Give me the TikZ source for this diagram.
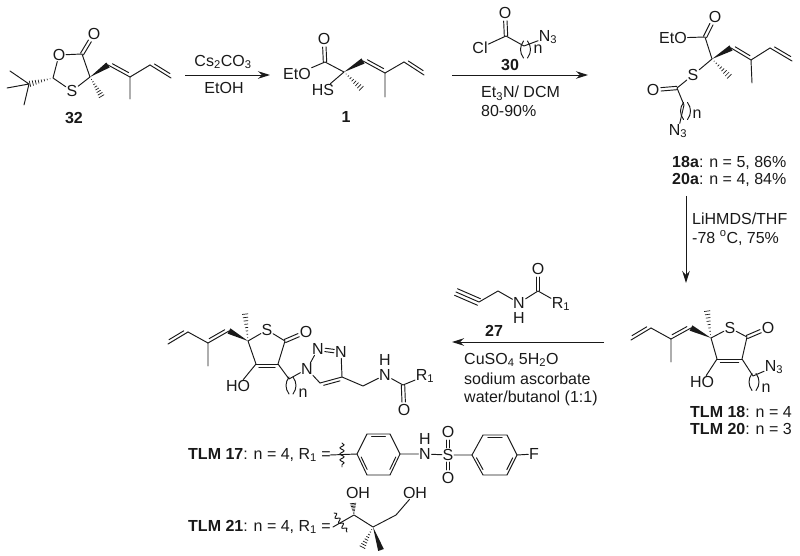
\documentclass[tikz,border=0pt]{standalone}
\usepackage{fontspec}
\setmainfont{Liberation Sans}
\usetikzlibrary{calc,decorations.pathmorphing,arrows.meta}
\tikzset{
  chem/.style={line width=0.95pt,line cap=round,color=black!90},
  atom/.style={inner sep=0.6pt,font=\fontsize{16}{19}\selectfont,text=black!90},
  lab/.style={inner sep=0pt,font=\fontsize{16}{19}\selectfont,text=black!90},
  rxn/.style={line width=0.95pt,color=black!90,-{Stealth[length=12pt,width=7.5pt]}},
  wavy/.style={chem,decorate,decoration={snake,amplitude=2pt,segment length=6pt}},
}
\newcommand{\wedgeb}[2]{\fill[black!90] (#1) -- ($(#2)!3pt!90:(#1)$) -- ($(#2)!3pt!-90:(#1)$) -- cycle;}
\newcommand{\hashb}[2]{\foreach \hh in {0.12,0.24,...,1.0}{\pgfmathsetmacro{\ww}{3.2*\hh}
  \coordinate (hp) at ($(#1)!\hh!(#2)$);
  \draw[line width=0.7pt,color=black!90] ($(hp)!\ww pt!90:(#2)$) -- ($(hp)!\ww pt!-90:(#2)$);}}
\newcommand{\dblb}[3]{\draw[chem] (#1) -- (#2);
  \coordinate (dp) at ($(#1)!.13!(#2)$); \coordinate (dq) at ($(#1)!.87!(#2)$);
  \draw[chem] ($(dp)!3.2pt!#3:(dq)$) -- ($(dq)!3.2pt!-#3:(dp)$);}
\newcommand{\dbc}[4]{\coordinate (dp) at ($(#1)!#3 pt!(#2)$); \coordinate (dq) at ($(#2)!#4 pt!(#1)$);
  \draw[chem] ($(dp)!1.7pt!90:(dq)$) -- ($(dq)!1.7pt!-90:(dp)$);
  \draw[chem] ($(dp)!1.7pt!-90:(dq)$) -- ($(dq)!1.7pt!90:(dp)$);}
\newcommand{\ring}[7]{\draw[chem] (#1)--(#2)--(#3)--(#4)--(#5)--(#6)--cycle;
  \coordinate (#7) at (barycentric cs:#1=1,#2=1,#3=1,#4=1,#5=1,#6=1);
  \draw[chem] ($(#2)!.16!(#3)!.13!(#7)$) -- ($(#3)!.16!(#2)!.13!(#7)$);
  \draw[chem] ($(#4)!.16!(#5)!.13!(#7)$) -- ($(#5)!.16!(#4)!.13!(#7)$);
  \draw[chem] ($(#6)!.16!(#1)!.13!(#7)$) -- ($(#1)!.16!(#6)!.13!(#7)$);}
\newcommand{\brk}[1]{\begin{scope}[shift={(#1)}]
  \draw[chem] (-2,-8.5) .. controls (-6,-3) and (-6,3) .. (-2,8.5);
  \draw[chem] (2,-8.5) .. controls (6,-3) and (6,3) .. (2,8.5);
  \end{scope}}
\begin{document}
\begin{tikzpicture}[x=1pt,y=-1pt]
\useasboundingbox (0,0) rectangle (800,556);
% ---------- 32
\coordinate (a1) at (10,71); \coordinate (a2) at (7,88); \coordinate (a3) at (24,105);
\coordinate (a4) at (29,84); \coordinate (a5) at (53,78);
\node[atom] (aO) at (59,55) {O}; \node[atom] (aS) at (72,91) {S};
\coordinate (a6) at (82,54); \node[atom] (aO2) at (94,34) {O};
\coordinate (a7) at (90,77); \coordinate (a8) at (102,97); \coordinate (a9) at (108,65);
\coordinate (a10) at (130,77); \coordinate (a11) at (130,99); \coordinate (a12) at (150,65); \coordinate (a13) at (171,78);
\draw[chem] (a1)--(a4) (a2)--(a4) (a3)--(a4);
\hashb{a5}{a4}
\draw[chem] (a5)--(aO) (a5)--(aS) (aO)--(a6) (a6)--(a7) (aS)--(a7);
\dbc{a6}{aO2}{0}{8}
\hashb{a7}{a8}
\wedgeb{a7}{a9}
\dblb{a9}{a10}{90}
\draw[chem] (a10)--(a11) (a10)--(a12);
\dblb{a12}{a13}{90}
\node[lab] (l32) at (74,118) {\textbf{32}};
% arrow 1
\coordinate (r1s) at (185,75); \coordinate (r1e) at (270,75);
\draw[rxn] (r1s)--(r1e);
\node[lab] (t1) at (223,62) {Cs\textsubscript{2}CO\textsubscript{3}};
\node[lab] (t2) at (224,88) {EtOH};
% ---------- 1
\node[atom] (bEt) at (297,74) {EtO}; \node[atom] (bO) at (324,39) {O}; \coordinate (b1) at (325,62);
\coordinate (b2) at (344,72); \node[atom] (bHS) at (323,90) {HS};
\coordinate (b3) at (363,61); \coordinate (b4) at (385,73); \coordinate (b5) at (404,62); \coordinate (b6) at (424,75);
\coordinate (b7) at (385,97); \coordinate (b8) at (362,89);
\draw[chem] (bEt)--(b1) (b1)--(b2) (b2)--(bHS) (b4)--(b7) (b4)--(b5);
\dbc{b1}{bO}{0}{8}
\wedgeb{b2}{b3}
\hashb{b2}{b8}
\dblb{b3}{b4}{90}
\dblb{b5}{b6}{90}
\node[lab] (l1) at (346,117) {\textbf{1}};
% arrow 2
\coordinate (r2s) at (452,75); \coordinate (r2e) at (588,75);
\draw[rxn] (r2s)--(r2e);
\node[atom] (cO) at (505,13) {O}; \coordinate (c1) at (506,36); \node[atom] (cCl) at (480,48) {Cl};
\coordinate (c2) at (524,46); \node[atom] (cN) at (548,37) {N\textsubscript{3}};
\draw[chem] (cCl)--(c1) (c1)--(c2) (c2)--(cN);
\dbc{c1}{cO}{0}{8}
\brk{525.5,49.5}
\node[lab] (cn) at (538,49) {n};
\node[lab] (l30) at (510,65) {\textbf{30}};
\node[lab,anchor=west] (t3) at (481,93) {Et\textsubscript{3}N/ DCM};
\node[lab,anchor=west] (t4) at (481,111) {80-90\%};
% ---------- 18a
\node[atom] (dO) at (715,17) {O}; \coordinate (d1) at (705,37); \node[atom] (dEt) at (673,38) {EtO};
\coordinate (d2) at (712,59); \coordinate (d3) at (731,48); \coordinate (d4) at (751,60);
\coordinate (d5) at (770,48); \coordinate (d6) at (792,61); \coordinate (d7) at (752,83); \coordinate (d8) at (730,77);
\node[atom] (dS) at (693,75) {S}; \coordinate (d9) at (677,88); \node[atom] (dO2) at (653,90) {O};
\coordinate (d10) at (684,105); \node[atom] (dN) at (678,131) {N\textsubscript{3}};
\draw[chem] (dEt)--(d1) (d1)--(d2) (d2)--(dS) (dS)--(d9) (d4)--(d5) (d4)--(d7) (d9)--(d10) (d10)--(dN);
\dbc{d1}{dO}{0}{8}
\dbc{d9}{dO2}{0}{8}
\wedgeb{d2}{d3}
\hashb{d2}{d8}
\dblb{d3}{d4}{90}
\dblb{d5}{d6}{90}
\brk{685.5,111}
\node[lab] (dn) at (697,114) {n};
\node[lab,anchor=west] (t5) at (672,163) {\textbf{18a}: n = 5, 86\%};
\node[lab,anchor=west] (t6) at (672,180) {\textbf{20a}: n = 4, 84\%};
% arrow 3
\coordinate (r3s) at (686,196); \coordinate (r3e) at (686,283);
\draw[rxn] (r3s)--(r3e);
\node[lab,anchor=west] (t7) at (692,219) {LiHMDS/THF};
\node[lab,anchor=west] (t8) at (692,238) {-78 \textsuperscript{o}C, 75\%};
% ---------- TLM 18
\node[atom] (eS) at (730,328) {S}; \node[atom] (eO) at (768,328) {O}; \coordinate (e1) at (747,337);
\coordinate (e2) at (711,338); \coordinate (e3) at (691,328); \coordinate (e4) at (671,339);
\coordinate (e5) at (651,328); \coordinate (e6) at (631,340); \coordinate (e7) at (671,362); \coordinate (e8) at (707,310);
\coordinate (e9) at (717,359); \coordinate (e10) at (742,359); \node[atom] (eHO) at (702,382) {HO};
\coordinate (e11) at (753,376); \node[atom] (eN) at (774,367) {N\textsubscript{3}};
\draw[chem] (e2)--(eS) (eS)--(e1) (e1)--(e10) (e2)--(e9) (e9)--(eHO) (e10)--(e11) (e11)--(eN) (e4)--(e5) (e4)--(e7);
\dbc{e1}{eO}{0}{8}
\wedgeb{e2}{e3}
\hashb{e2}{e8}
\dblb{e3}{e4}{-90}
\dblb{e5}{e6}{-90}
\dblb{e9}{e10}{-90}
\brk{754,382}
\node[lab] (en) at (766,388) {n};
\node[lab,anchor=west] (t9) at (690,412) {\textbf{TLM 18}: n = 4};
\node[lab,anchor=west] (t10) at (690,429) {\textbf{TLM 20}: n = 3};
% arrow 4
\coordinate (r4s) at (604,342); \coordinate (r4e) at (452,342);
\draw[rxn] (r4s)--(r4e);
% ---------- 27
\coordinate (f1) at (456,292); \coordinate (f2) at (479,302); \coordinate (f3) at (498,291);
\node[atom] (fN) at (519,303) {N}; \node[lab] (fH) at (519,318) {H};
\coordinate (f4) at (538,291); \node[atom] (fO) at (538,269) {O}; \node[atom] (fR) at (561,304) {R\textsubscript{1}};
\draw[chem] (f1)--(f2) (f2)--(f3) (f3)--(fN) (fN)--(f4) (f4)--(fR);
\coordinate (f5) at ($(f1)!3.6pt!90:(f2)$); \coordinate (f6) at ($(f2)!3.6pt!-90:(f1)$);
\coordinate (f7) at ($(f1)!3.6pt!-90:(f2)$); \coordinate (f8) at ($(f2)!3.6pt!90:(f1)$);
\draw[chem] (f5)--(f6) (f7)--(f8);
\dbc{f4}{fO}{0}{8}
\node[lab] (l27) at (494,331) {\textbf{27}};
\node[lab,anchor=west] (t11) at (464,360) {CuSO\textsubscript{4} 5H\textsubscript{2}O};
\node[lab,anchor=west] (t12) at (464,379) {sodium ascorbate};
\node[lab,anchor=west] (t13) at (464,398) {water/butanol (1:1)};
% ---------- product
\node[atom] (gS) at (267,330) {S}; \node[atom] (gO) at (306,332) {O}; \coordinate (g1) at (285,341);
\coordinate (g2) at (248,341); \coordinate (g3) at (229,331); \coordinate (g4) at (208,343);
\coordinate (g5) at (188,332); \coordinate (g6) at (168,344); \coordinate (g7) at (208,366); \coordinate (g8) at (245,313);
\coordinate (g9) at (256,364); \coordinate (g10) at (278,364); \node[atom] (gHO) at (238,386) {HO};
\coordinate (g11) at (289,379); \node[atom] (gN1) at (307,369) {N}; \node[atom] (gN2) at (318,349) {N}; \node[atom] (gN3) at (341,352) {N};
\coordinate (g12) at (342,377); \coordinate (g13) at (320,383); \coordinate (g14) at (363,386);
\node[atom] (gN) at (385,375) {N}; \node[lab] (gH) at (385,360) {H}; \coordinate (g15) at (403,385);
\node[atom] (gO2) at (404,410) {O}; \node[atom] (gR) at (425,376) {R\textsubscript{1}};
\draw[chem] (g2)--(gS) (gS)--(g1) (g1)--(g10) (g2)--(g9) (g9)--(gHO) (g10)--(g11) (g11)--(gN1) (g4)--(g5) (g4)--(g7);
\draw[chem] (gN1)--(gN2) (gN3)--(g12) (g13)--(gN1) (g12)--(g14) (g14)--(gN) (gN)--(g15) (g15)--(gR);
\dbc{g1}{gO}{0}{8}
\dbc{gN2}{gN3}{7}{7}
\dbc{g15}{gO2}{0}{8}
\wedgeb{g2}{g3}
\hashb{g2}{g8}
\dblb{g3}{g4}{-90}
\dblb{g5}{g6}{-90}
\dblb{g9}{g10}{-90}
\dblb{g12}{g13}{90}
\brk{291,385.5}
\node[lab] (gn) at (303,393) {n};
% ---------- TLM 17
\node[lab,anchor=west] (t14) at (188,455) {\textbf{TLM 17}: n = 4, R\textsubscript{1} =};
\coordinate (h0) at (330,455); \coordinate (h1) at (342,443); \coordinate (h2) at (342,467);
\coordinate (r1) at (357,454); \coordinate (r2) at (367,434); \coordinate (r3) at (390,434);
\coordinate (r4) at (400,454); \coordinate (r5) at (390,475); \coordinate (r6) at (367,475);
\node[atom] (hN) at (425,454) {N}; \node[lab] (hH) at (425,439) {H};
\node[atom] (hS) at (448,455) {S}; \node[atom] (hO1) at (448,432) {O}; \node[atom] (hO2) at (448,478) {O};
\coordinate (s1) at (472,455); \coordinate (s2) at (483,435); \coordinate (s3) at (507,435);
\coordinate (s4) at (517,455); \coordinate (s5) at (507,475); \coordinate (s6) at (483,475);
\node[atom] (hF) at (534,454) {F};
\draw[wavy] (h1)--(h2);
\draw[chem] (h0)--(r1);
\ring{r1}{r2}{r3}{r4}{r5}{r6}{rc}
\ring{s1}{s2}{s3}{s4}{s5}{s6}{sc}
\draw[chem] (r4)--(hN) (hN)--(hS) (hS)--(s1) (s4)--(hF);
\dbc{hS}{hO1}{7}{8}
\dbc{hS}{hO2}{7}{8}
% ---------- TLM 21
\node[lab,anchor=west] (t15) at (188,527) {\textbf{TLM 21}: n = 4, R\textsubscript{1} =};
\coordinate (i0) at (334,513); \coordinate (i1) at (347,532); \coordinate (i2) at (333,527);
\coordinate (i3) at (354,515); \node[atom] (iO1) at (358,493) {OH}; \coordinate (i4) at (373,527); \coordinate (i8) at (353,503);
\coordinate (i5) at (362,548); \coordinate (i6) at (381,550); \coordinate (i7) at (396,515); \node[atom] (iO2) at (415,493) {OH};
\draw[wavy] (i0)--(i1);
\draw[chem] (i2)--(i3) (i3)--(i4) (i4)--(i7) (i7)--(iO2);
\hashb{i3}{i8}
\hashb{i4}{i5}
\wedgeb{i4}{i6}
\end{tikzpicture}
\end{document}
